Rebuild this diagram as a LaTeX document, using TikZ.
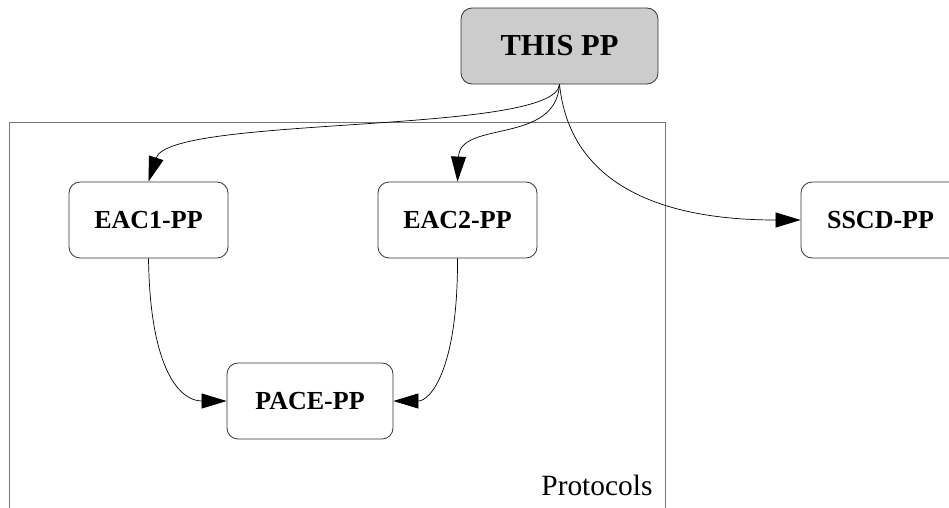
\documentclass[tikz,border=0pt]{standalone}
\usepackage{fontspec}
\setmainfont{Liberation Serif}
\usetikzlibrary{arrows.meta}
\definecolor{nodegrey}{HTML}{CCCCCC}
\definecolor{clustergrey}{HTML}{777777}
\tikzset{
  box/.style={draw=black!80, rounded corners=11pt, minimum width=159pt, minimum height=76pt,
    inner sep=0pt, font=\fontsize{26}{31}\selectfont\bfseries, line width=0.8pt},
  mainbox/.style={box, fill=nodegrey, minimum width=197pt, font=\fontsize{30.5}{36}\selectfont\bfseries},
  edge/.style={line width=0.7pt, -{Triangle[length=25pt,width=15pt]}},
}
\begin{document}
\begin{tikzpicture}[x=1pt,y=-1pt]
\useasboundingbox (0,0) rectangle (949,507);
\draw[clustergrey, line width=0.8pt] (9,540) -- (9,122) -- (665,122) -- (665,540);
\node[font=\fontsize{29.4}{35}\selectfont, anchor=base east] (proto) at (656,495) {Protocols};
\node[mainbox] (this) at (559.5,46) {THIS PP};
\node[box] (eac1) at (148.5,220) {EAC1-PP};
\node[box] (eac2) at (457.5,220) {EAC2-PP};
\node[box] (sscd) at (880.5,220) {SSCD-PP};
\node[box, minimum width=166pt] (pace) at (310,401) {PACE-PP};
\draw[edge] (this.south) .. controls (556,135) and (170,115) .. (eac1.north);
\draw[edge] (this.south) .. controls (556,145) and (460,120) .. (eac2.north);
\draw[edge] (this.south) .. controls (572,205) and (700,220) .. (sscd.west);
\draw[edge] (eac1.south) .. controls (150,370) and (180,401) .. (pace.west);
\draw[edge] (eac2.south) .. controls (458,370) and (430,401) .. (pace.east);
\end{tikzpicture}
\end{document}
